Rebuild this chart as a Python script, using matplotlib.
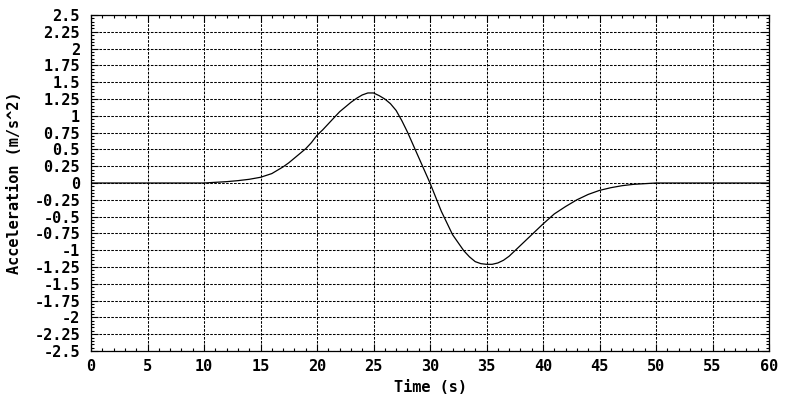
import numpy as np
import matplotlib
matplotlib.use("Agg")
import matplotlib.pyplot as plt
from matplotlib.ticker import MultipleLocator, FixedLocator

# values
time_s = [0, 5, 10, 11, 12, 13, 14, 15, 16, 17, 17.5, 18, 18.5, 19, 19.5, 20, 20.5,
          21, 21.5, 22, 22.5, 23, 23.5, 24, 24.5, 25, 25.5, 26, 26.5, 27, 27.5, 28,
          29, 30, 31, 32, 33, 33.5, 34, 34.5, 35, 35.5, 36, 36.5, 37, 38, 39, 40,
          41, 42, 43, 44, 45, 46, 47, 48, 49, 50, 55, 60]
accel = [0, 0, 0, 0.01, 0.02, 0.035, 0.055, 0.085, 0.14, 0.24, 0.3, 0.37, 0.44,
         0.51, 0.6, 0.71, 0.79, 0.88, 0.97, 1.06, 1.13, 1.20, 1.26, 1.31, 1.34,
         1.34, 1.30, 1.25, 1.18, 1.08, 0.93, 0.76, 0.38, 0.0, -0.42, -0.77, -1.01,
         -1.10, -1.17, -1.20, -1.21, -1.21, -1.19, -1.15, -1.09, -0.93, -0.77,
         -0.61, -0.46, -0.35, -0.25, -0.17, -0.11, -0.07, -0.04, -0.02, -0.01, 0,
         0, 0]

x_ticks = list(range(0, 61, 5))
y_ticks = [-2.5 + 0.25 * i for i in range(21)]
y_tick_labels = ["%g" % v for v in y_ticks]

plt.rcParams['font.family'] = 'DejaVu Sans Mono'
plt.rcParams['font.weight'] = 'bold'

fig = plt.figure(figsize=(8, 4), dpi=100)
ax = fig.add_axes([91 / 800, 49 / 400, 678 / 800, 336 / 400])

ax.plot(time_s, accel, color='black', lw=0.9, zorder=3)

ax.set_xlim(0, 60)
ax.set_ylim(-2.5, 2.5)
ax.xaxis.set_major_locator(FixedLocator(x_ticks))
ax.xaxis.set_minor_locator(MultipleLocator(1))
ax.yaxis.set_major_locator(FixedLocator(y_ticks))
ax.set_yticklabels(y_tick_labels)
ax.yaxis.set_minor_locator(MultipleLocator(0.05))

ax.grid(True, which='major', color='black', lw=0.75, linestyle=(0, (2.5, 1.3)), zorder=1)

ax.tick_params(which='both', direction='in', top=True, right=True, width=0.8,
               labelsize=11, colors='black')
ax.tick_params(which='major', length=5)
ax.tick_params(which='minor', length=2.5)
ax.tick_params(axis='y', pad=8)
ax.tick_params(axis='x', pad=6)
for s in ax.spines.values():
    s.set_linewidth(0.9)

ax.set_xlabel('Time (s)', fontsize=11, fontweight='bold', labelpad=4)
ax.set_ylabel('Acceleration (m/s^2)', fontsize=11, fontweight='bold', labelpad=9)

fig.savefig('out.png', dpi=100)
